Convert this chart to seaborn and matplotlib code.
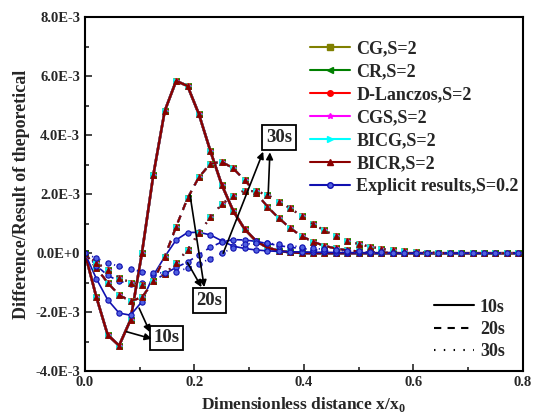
import numpy as np
import pandas as pd
import matplotlib
matplotlib.use("Agg")
import matplotlib.pyplot as plt
import seaborn as sns
from matplotlib.lines import Line2D
from matplotlib.ticker import MultipleLocator

# grid nodes, x/x0 (step 1/48)
x = np.arange(39) / 48

# numerical results (all six solvers coincide), in units of 1E-3
num_10s = [0, -1.48, -2.77, -3.13, -2.26, 0.0, 2.65, 4.82, 5.84, 5.67, 4.71, 3.47, 2.32, 1.44,
           0.82, 0.42, 0.19, 0.08, 0.03, 0.01] + [0] * 19
num_20s = [0, -0.5, -1.0, -1.42, -1.62, -1.5, -0.95, -0.12, 0.9, 1.86, 2.58, 3.03, 3.1, 2.88,
           2.48, 2.05, 1.58, 1.19, 0.85, 0.58, 0.39, 0.25, 0.16, 0.1, 0.06, 0.04, 0.02, 0.01] + [0] * 11
num_30s = [0, -0.32, -0.57, -0.83, -1.0, -1.07, -0.95, -0.7, -0.34, 0.12, 0.68, 1.22, 1.66, 1.95,
           2.12, 2.1, 1.98, 1.75, 1.53, 1.26, 0.99, 0.77, 0.58, 0.43, 0.31, 0.22, 0.15, 0.1, 0.06,
           0.04, 0.02, 0.01] + [0] * 7
# explicit results, S=0.2
exp_10s = [0, -0.86, -1.58, -2.03, -2.1, -1.64, -0.75, -0.12, 0.45, 0.7, 0.71, 0.62, 0.42, 0.24,
           0.16, 0.11, 0.08, 0.06, 0.05, 0.04, 0.03, 0.03, 0.02, 0.02, 0.01, 0.01] + [0] * 13
exp_20s = [0, -0.42, -0.75, -0.95, -1.03, -1.02, -0.95, -0.7, -0.48, -0.3, -0.05, 0.2, 0.38, 0.46,
           0.45, 0.4, 0.33, 0.26, 0.2, 0.16, 0.12, 0.09, 0.06, 0.04, 0.03, 0.02, 0.01] + [0] * 12
exp_30s = [0, -0.17, -0.32, -0.45, -0.55, -0.62, -0.66, -0.67, -0.62, -0.51, -0.36, -0.18, 0.0, 0.18,
           0.3, 0.35, 0.34, 0.3, 0.26, 0.21, 0.17, 0.13, 0.1, 0.08, 0.06, 0.04, 0.03, 0.02, 0.01] + [0] * 10

methods = ["CG,S=2", "CR,S=2", "D-Lanczos,S=2", "CGS,S=2", "BICG,S=2", "BICR,S=2"]
method_colors = ["#808000", "#008000", "#FF0000", "#FF00FF", "#00FFFF", "#8B0000"]
method_markers = ["s", "<", "o", "*", ">", "^"]
explicit_label = "Explicit results,S=0.2"
explicit_color = "#1010B0"
times = ["10s", "20s", "30s"]

yticks = [-4e-3, -2e-3, 0, 2e-3, 4e-3, 6e-3, 8e-3]
ytick_labels = ["-4.0E-3", "-2.0E-3", "0.0E+0", "2.0E-3", "4.0E-3", "6.0E-3", "8.0E-3"]
xticks = [0.0, 0.2, 0.4, 0.6, 0.8]
xtick_labels = ["0.0", "0.2", "0.4", "0.6", "0.8"]

df_num = pd.DataFrame({"x": x, "10s": num_10s, "20s": num_20s, "30s": num_30s})
df_exp = pd.DataFrame({"x": x, "10s": exp_10s, "20s": exp_20s, "30s": exp_30s})

sns.set_style("ticks")
plt.rcParams["font.family"] = ["Liberation Serif", "DejaVu Serif"]
plt.rcParams["font.weight"] = "bold"
plt.rcParams["mathtext.fontset"] = "custom"
plt.rcParams["mathtext.bf"] = "Liberation Serif:bold"
plt.rcParams["mathtext.rm"] = "Liberation Serif:bold"

line_styles = {"10s": "-", "20s": (0, (3.5, 3)), "30s": (0, (0.7, 4))}
line_widths = {"10s": 1.8, "20s": 1.5, "30s": 1.5}

fig = plt.figure(figsize=(5.34, 4.19), dpi=100)
ax = fig.add_axes([0.159, 0.114, 0.820, 0.845])

for t in times:
    for m, c, mk in zip(methods, method_colors, method_markers):
        sns.lineplot(x=df_num["x"], y=df_num[t] * 1e-3, ax=ax, color=c, marker=mk,
                     markersize=3.8, markeredgewidth=0.5, markeredgecolor=c,
                     linestyle=line_styles[t], linewidth=line_widths[t], legend=False)
    sns.lineplot(x=df_exp["x"], y=df_exp[t] * 1e-3, ax=ax, color=explicit_color, marker="o",
                 markersize=3.8, markeredgewidth=0.8, markeredgecolor=explicit_color,
                 markerfacecolor="#5060E0", linestyle=line_styles[t], linewidth=1.2, legend=False)

ax.set_xlim(0, 0.8)
ax.set_ylim(-4e-3, 8e-3)
ax.set_xticks(xticks)
ax.set_xticklabels(xtick_labels)
ax.set_yticks(yticks)
ax.set_yticklabels(ytick_labels)
ax.xaxis.set_minor_locator(MultipleLocator(0.1))
ax.yaxis.set_minor_locator(MultipleLocator(1e-3))
ax.tick_params(which="both", direction="in", width=1.2, labelsize=10.5)
ax.tick_params(which="major", length=5)
ax.tick_params(which="minor", length=3)
for s in ax.spines.values():
    s.set_linewidth(1.5)
    s.set_color("black")

ax.set_xlabel(r"Dimensionless distance x/x$_\mathbf{0}$", fontsize=12.5, fontweight="bold", labelpad=4)
ax.set_ylabel("Difference/Result of theporetical", fontsize=13, fontweight="bold", labelpad=4)

# method legend
handles = [Line2D([], [], color=c, marker=mk, markersize=4, lw=1.5) for c, mk in zip(method_colors, method_markers)]
handles.append(Line2D([], [], color=explicit_color, marker="o", markersize=4, lw=1.5, markerfacecolor="#5060E0"))
leg1 = ax.legend(handles, methods + [explicit_label], loc="upper left", bbox_to_anchor=(0.515, 0.935),
                 frameon=False, fontsize=13, handlelength=2.2, handletextpad=0.35, labelspacing=0.33,
                 borderpad=0, borderaxespad=0)
ax.add_artist(leg1)

# time legend
thandles = [Line2D([], [], color="black", linestyle=line_styles[t], lw=1.5) for t in times]
ax.legend(thandles, times, loc="upper left", bbox_to_anchor=(0.797, 0.205), frameon=False, fontsize=13,
          handlelength=2.2, handletextpad=0.35, labelspacing=0.3, borderpad=0, borderaxespad=0)

# labelled arrows
box = dict(boxstyle="square,pad=0.2", fc="white", ec="black", lw=1.3)
arrow = dict(arrowstyle="-|>", color="black", lw=1.2, mutation_scale=10, shrinkA=0, shrinkB=0)
ax.text(0.149, -2.87e-3, "10s", fontsize=13.5, fontweight="bold", ha="center", va="center", bbox=box)
ax.annotate("", xy=(0.122, -2.9e-3), xytext=(0.076, -2.66e-3), arrowprops=arrow)
ax.annotate("", xy=(0.119, -2.68e-3), xytext=(0.099, -1.86e-3), arrowprops=arrow)
ax.text(0.228, -1.6e-3, "20s", fontsize=13.5, fontweight="bold", ha="center", va="center", bbox=box)
ax.annotate("", xy=(0.218, -1.15e-3), xytext=(0.192, 1.98e-3), arrowprops=arrow)
ax.annotate("", xy=(0.213, -1.15e-3), xytext=(0.1875, -0.32e-3), arrowprops=arrow)
ax.text(0.355, 3.93e-3, "30s", fontsize=13.5, fontweight="bold", ha="center", va="center", bbox=box)
ax.annotate("", xy=(0.3257, 3.44e-3), xytext=(0.2526, 0.0), arrowprops=arrow)
ax.annotate("", xy=(0.338, 3.42e-3), xytext=(0.3348, 1.98e-3), arrowprops=arrow)

fig.savefig("out.png", dpi=100)
